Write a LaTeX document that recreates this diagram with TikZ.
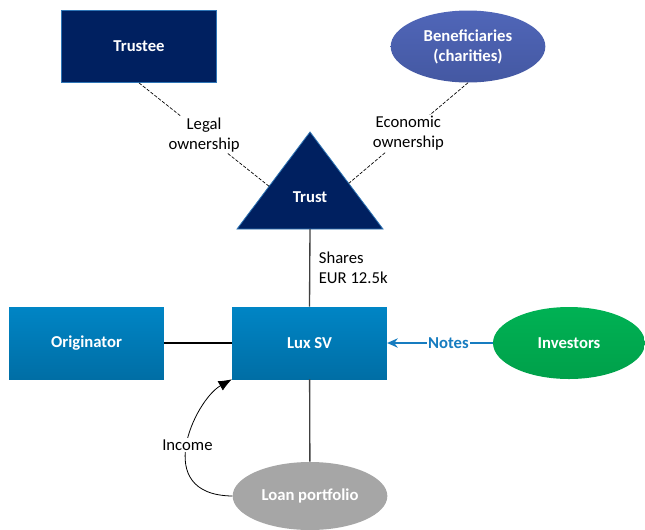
\documentclass[tikz,border=0pt]{standalone}
\usepackage{fontspec}
\setmainfont{Carlito}
\usetikzlibrary{arrows.meta,shapes.geometric,calc}
\definecolor{svNavy}{RGB}{0,32,96}
\definecolor{svNavyLine}{RGB}{46,117,182}
\definecolor{svBlueTop}{RGB}{0,133,197}
\definecolor{svBlueBottom}{RGB}{0,110,165}
\definecolor{svVioletTop}{RGB}{80,102,184}
\definecolor{svVioletBottom}{RGB}{68,88,162}
\definecolor{svGreenTop}{RGB}{0,178,84}
\definecolor{svGreenBottom}{RGB}{0,160,74}
\definecolor{svGrey}{RGB}{166,166,166}
\definecolor{svNotes}{RGB}{22,124,192}

\begin{document}
\begin{tikzpicture}[
  x=0.75pt, y=-0.75pt,
  font=\fontsize{12.5}{15}\selectfont,
  entity/.style={
    minimum width=116pt,
    minimum height=54pt,
    align=center,
    text=white,
    font=\fontsize{12.5}{15}\selectfont\bfseries
  },
  box/.style={entity, rectangle, top color=svBlueTop, bottom color=svBlueBottom},
  blob/.style={entity, ellipse},
  owner/.style={draw=black, dash pattern=on 2.5pt off 1.2pt, line width=0.5pt},
  link/.style={draw=black!75, line width=1pt},
  tag/.style={fill=white, inner sep=1pt, align=center}
]
  \useasboundingbox (0,0) rectangle (645,529);

  % top row
  \node[entity, rectangle, fill=svNavy, draw=svNavyLine, line width=0.6pt]
    (trustee) at (139,46.5) {Trustee};
  \node[blob, top color=svVioletTop, bottom color=svVioletBottom]
    (beneficiaries) at (468,46.5) {Beneficiaries\\(charities)};

  % trust triangle
  \coordinate (apex) at (310,132);
  \coordinate (baseL) at (237,229);
  \coordinate (baseR) at (383,229);
  \draw[draw=svNavyLine, fill=svNavy, line width=0.6pt]
    (apex) -- (baseR) -- (baseL) -- cycle;
  \node[text=white, font=\fontsize{12.5}{15}\selectfont\bfseries]
    (trust) at (310,197) {Trust};
  \coordinate (trustBase) at (310,229);
  \coordinate (legalEnd) at ($(apex)!0.56!(baseL)$);
  \coordinate (econEnd) at ($(apex)!0.53!(baseR)$);

  % middle row
  \node[box] (originator) at (86.5,343) {Originator};
  \node[box] (luxsv) at (309.5,343) {Lux SV};
  \node[blob, top color=svGreenTop, bottom color=svGreenBottom, minimum width=114pt]
    (investors) at (569,343) {Investors};

  % bottom
  \node[blob, fill=svGrey, minimum height=51pt] (loan) at (310,496) {Loan portfolio};

  % connectors
  \draw[owner] (trustee.south) -- node[tag] {Legal\\ownership} (legalEnd);
  \draw[owner] (beneficiaries.south) -- node[tag] {Economic\\ownership} (econEnd);
  \draw[link] (trustBase) -- node[anchor=west, align=left, xshift=3pt]
    {Shares\\EUR 12.5k} (luxsv.north);
  \draw[black, line width=1.2pt] (originator) -- (luxsv);
  \draw[svNotes, line width=1.2pt, -{Stealth[length=8pt,width=7pt]}]
    (investors) -- node[tag, pos=0.42, text=svNotes,
      font=\fontsize{12.5}{15}\selectfont\bfseries] {Notes} (luxsv);
  \draw[link] (luxsv) -- (loan);
  \draw[line width=0.6pt, -{Latex[length=10pt,width=8pt]}]
    (loan.west) .. controls (150,495) and (195,400) .. node[tag] {Income}
    (luxsv.south west);
\end{tikzpicture}
\end{document}
